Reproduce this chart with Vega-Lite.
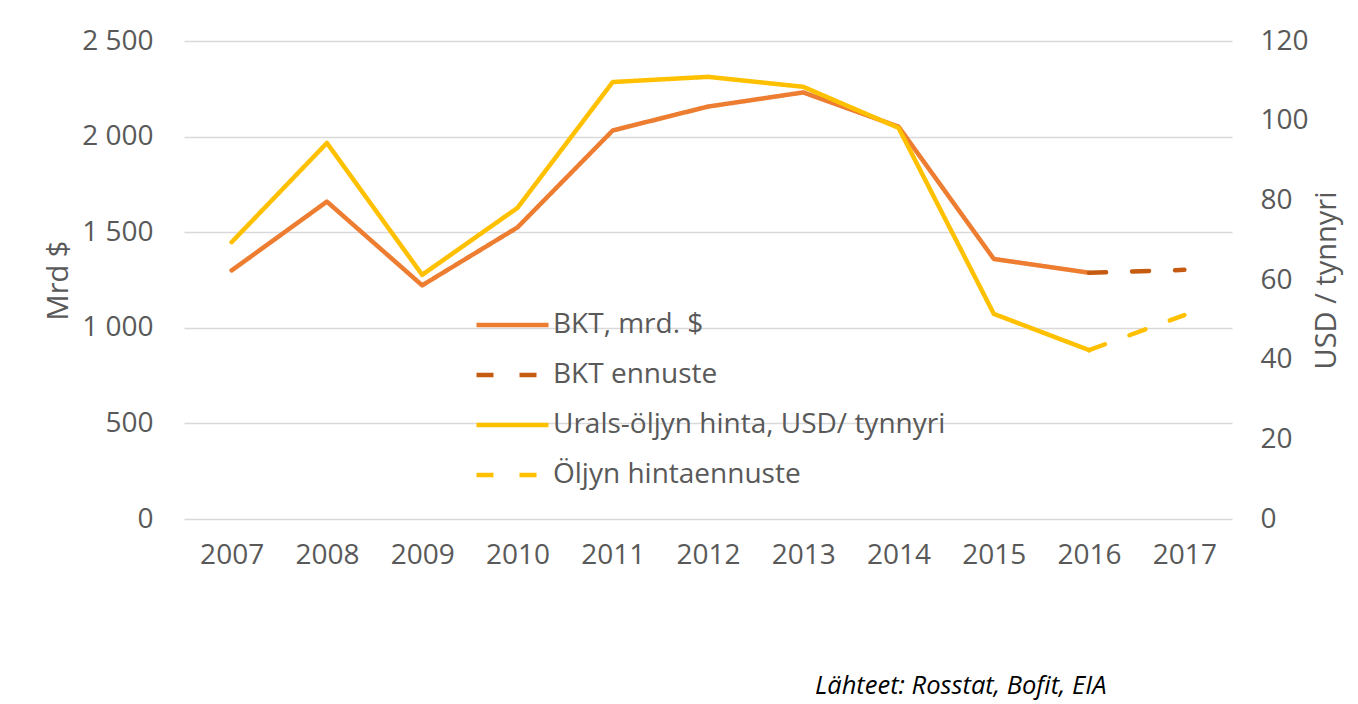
{
  "$schema": "https://vega.github.io/schema/vega-lite/v6.json",
  "autosize": {"type": "none"},
  "width": 1048,
  "height": 478,
  "padding": {"left": 184, "top": 41, "right": 126, "bottom": 185},
  "background": "#ffffff",
  "title": {
    "text": "Lähteet: Rosstat, Bofit, EIA",
    "orient": "bottom",
    "anchor": "start",
    "frame": "group",
    "dx": 631,
    "offset": 105,
    "font": "Open Sans",
    "fontSize": 25.5,
    "fontStyle": "italic",
    "fontWeight": "normal",
    "color": "#000000"
  },
  "data": {
    "values": [
      {"year": "2007", "series": "BKT, mrd. $", "value": 1300, "axis": "left"},
      {"year": "2008", "series": "BKT, mrd. $", "value": 1660, "axis": "left"},
      {"year": "2009", "series": "BKT, mrd. $", "value": 1222, "axis": "left"},
      {"year": "2010", "series": "BKT, mrd. $", "value": 1525, "axis": "left"},
      {"year": "2011", "series": "BKT, mrd. $", "value": 2032, "axis": "left"},
      {"year": "2012", "series": "BKT, mrd. $", "value": 2157, "axis": "left"},
      {"year": "2013", "series": "BKT, mrd. $", "value": 2231, "axis": "left"},
      {"year": "2014", "series": "BKT, mrd. $", "value": 2052, "axis": "left"},
      {"year": "2015", "series": "BKT, mrd. $", "value": 1360, "axis": "left"},
      {"year": "2016", "series": "BKT, mrd. $", "value": 1288, "axis": "left"},
      {"year": "2016", "series": "BKT ennuste", "value": 1288, "axis": "left"},
      {"year": "2017", "series": "BKT ennuste", "value": 1303, "axis": "left"},
      {"year": "2007", "series": "Urals-öljyn hinta, USD/ tynnyri", "value": 69.5, "axis": "right"},
      {"year": "2008", "series": "Urals-öljyn hinta, USD/ tynnyri", "value": 94.4, "axis": "right"},
      {"year": "2009", "series": "Urals-öljyn hinta, USD/ tynnyri", "value": 61.3, "axis": "right"},
      {"year": "2010", "series": "Urals-öljyn hinta, USD/ tynnyri", "value": 78.1, "axis": "right"},
      {"year": "2011", "series": "Urals-öljyn hinta, USD/ tynnyri", "value": 109.7, "axis": "right"},
      {"year": "2012", "series": "Urals-öljyn hinta, USD/ tynnyri", "value": 111.0, "axis": "right"},
      {"year": "2013", "series": "Urals-öljyn hinta, USD/ tynnyri", "value": 108.5, "axis": "right"},
      {"year": "2014", "series": "Urals-öljyn hinta, USD/ tynnyri", "value": 98.2, "axis": "right"},
      {"year": "2015", "series": "Urals-öljyn hinta, USD/ tynnyri", "value": 51.5, "axis": "right"},
      {"year": "2016", "series": "Urals-öljyn hinta, USD/ tynnyri", "value": 42.4, "axis": "right"},
      {"year": "2016", "series": "Öljyn hintaennuste", "value": 42.4, "axis": "right"},
      {"year": "2017", "series": "Öljyn hintaennuste", "value": 51.2, "axis": "right"}
    ]
  },
  "encoding": {
    "x": {
      "field": "year",
      "type": "ordinal",
      "scale": {"type": "point", "padding": 0.5},
      "axis": {"title": null, "labelAngle": 0, "labelPadding": 22, "grid": false}
    },
    "color": {
      "field": "series",
      "type": "nominal",
      "scale": {
        "domain": ["BKT, mrd. $", "BKT ennuste", "Urals-öljyn hinta, USD/ tynnyri", "Öljyn hintaennuste"],
        "range": ["#ED7D31", "#C55A11", "#FFC000", "#FFC000"]
      },
      "legend": {"title": null}
    },
    "strokeDash": {
      "field": "series",
      "type": "nominal",
      "scale": {
        "domain": ["BKT, mrd. $", "BKT ennuste", "Urals-öljyn hinta, USD/ tynnyri", "Öljyn hintaennuste"],
        "range": [[1, 0], [17, 26], [1, 0], [17, 26]]
      },
      "legend": {"title": null}
    }
  },
  "layer": [
    {
      "transform": [{"filter": "datum.axis === 'left'"}],
      "mark": {"type": "line", "strokeWidth": 4.5, "strokeCap": "round", "strokeJoin": "round"},
      "encoding": {
        "y": {
          "field": "value",
          "type": "quantitative",
          "scale": {"domain": [0, 2500], "nice": false},
          "axis": {
            "title": "Mrd $",
            "values": [0, 500, 1000, 1500, 2000, 2500],
            "labelExpr": "replace(format(datum.value, ','), ',', ' ')",
            "labelPadding": 31,
            "titlePadding": 8,
            "grid": true
          }
        }
      }
    },
    {
      "transform": [{"filter": "datum.axis === 'right'"}],
      "mark": {"type": "line", "strokeWidth": 4.5, "strokeCap": "round", "strokeJoin": "round"},
      "encoding": {
        "y": {
          "field": "value",
          "type": "quantitative",
          "scale": {"domain": [0, 120], "nice": false},
          "axis": {
            "orient": "right",
            "title": "USD / tynnyri",
            "values": [0, 20, 40, 60, 80, 100, 120],
            "labelPadding": 28,
            "titleAngle": -90,
            "titleBaseline": "top",
            "titlePadding": 4,
            "grid": false
          }
        }
      }
    }
  ],
  "resolve": {"scale": {"y": "independent"}},
  "config": {
    "view": {"stroke": null},
    "font": "Open Sans",
    "axis": {
      "labelFont": "Open Sans",
      "labelFontSize": 28,
      "labelColor": "#595959",
      "titleFont": "Open Sans",
      "titleFontSize": 29,
      "titleFontWeight": "normal",
      "titleColor": "#595959",
      "gridColor": "#D9D9D9",
      "gridWidth": 1.5,
      "domain": false,
      "ticks": false
    },
    "legend": {
      "orient": "none",
      "legendX": 290,
      "legendY": 259,
      "labelFont": "Open Sans",
      "labelFontSize": 28,
      "labelColor": "#595959",
      "labelLimit": 800,
      "labelOffset": 2,
      "symbolType": "stroke",
      "symbolSize": 5184,
      "symbolStrokeWidth": 4.5,
      "clipHeight": 50,
      "rowPadding": 0
    }
  }
}
